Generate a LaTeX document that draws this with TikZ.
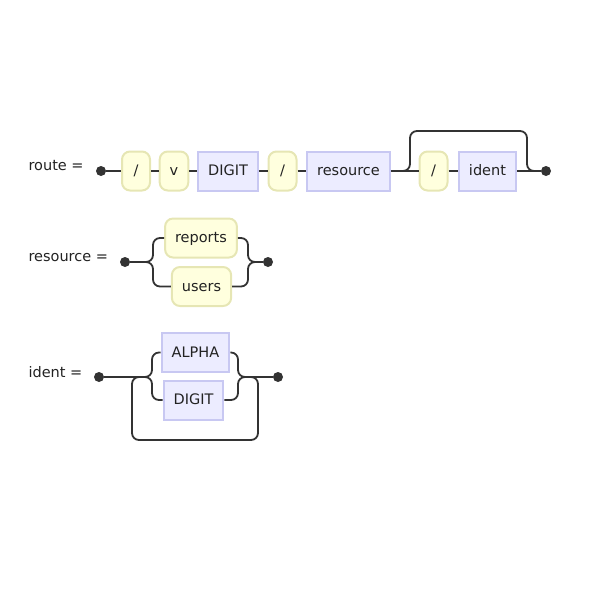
\documentclass[tikz,border=0pt]{standalone}
\usepackage{fontspec}
\setmainfont{DejaVu Sans}
\definecolor{railline}{HTML}{333333}
\definecolor{railtext}{HTML}{222222}
\definecolor{termfill}{HTML}{FFFFDE}
\definecolor{termdraw}{HTML}{E6E6B4}
\definecolor{nontfill}{HTML}{ECECFF}
\definecolor{nontdraw}{HTML}{C8C8F2}
\tikzset{
	term/.style={draw=termdraw,fill=termfill,line width=2pt,rounded corners=8pt,minimum width=28pt,minimum height=39pt,inner xsep=10pt,text height=11pt,text depth=2pt,text=railtext},
	nont/.style={draw=nontdraw,fill=nontfill,line width=2pt,sharp corners,minimum width=28pt,minimum height=39pt,inner xsep=10pt,text height=11pt,text depth=2pt,text=railtext},
	rail/.style={draw=railline,line width=1.8pt,rounded corners=7pt},
	railend/.style={circle,fill=railline,inner sep=0pt,minimum size=10pt},
	rulename/.style={anchor=west,text height=11pt,text depth=2pt,text=railtext}
}
\begin{document}
\begin{tikzpicture}[x=1pt,y=-1pt,font=\fontsize{14.5pt}{17pt}\selectfont]
		\useasboundingbox (0,0) rectangle (600,600);
		\node[rulename](routename) at (25,166) {route =};
		\node[railend](routestart) at (101,171) {};
		\node[term](slasha) at (136,171) {/};
		\node[term](vee) at (174,171) {v};
		\node[nont](digita) at (228,171) {DIGIT};
		\node[term](slashb) at (282.5,171) {/};
		\node[nont](resourceref) at (348.5,171) {resource};
		\node[term](slashc) at (433.5,171) {/};
		\node[nont](identref) at (487.5,171) {ident};
		\node[railend](routeend) at (546,171) {};
		\coordinate (optin) at (400,171);
		\coordinate (optout) at (538,171);
		\draw[rail] (routestart) -- (slasha);
		\draw[rail] (slasha) -- (vee);
		\draw[rail] (vee) -- (digita);
		\draw[rail] (digita) -- (slashb);
		\draw[rail] (slashb) -- (resourceref);
		\draw[rail] (resourceref) -- (slashc);
		\draw[rail] (slashc) -- (identref);
		\draw[rail] (identref) -- (routeend);
		\draw[rail] (optin) -- ++(10,0) |- ([shift={(-11,-40)}]optout) -- ++(0,40) -- (optout);
		\node[rulename](resname) at (25,257) {resource =};
		\node[railend](resstart) at (125,262) {};
		\node[term](reports) at (201,238) {reports};
		\node[term](users) at (201.5,286.5) {users};
		\node[railend](resend) at (268,262) {};
		\coordinate (resl) at (147,262);
		\coordinate (resr) at (258,262);
		\draw[rail] (resstart) -- (resl);
		\draw[rail] (resl) -- ++(6,0) |- (reports.west);
		\draw[rail] (resl) -- ++(6,0) |- (users.west);
		\draw[rail] (resr) -- ++(-10,0) |- (reports.east);
		\draw[rail] (resr) -- ++(-10,0) |- (users.east);
		\draw[rail] (resr) -- (resend);
		\node[rulename](identname) at (25,373) {ident =};
		\node[railend](identstart) at (99,377) {};
		\node[nont](alpha) at (195.5,352.5) {ALPHA};
		\node[nont](digitb) at (193.5,400) {DIGIT};
		\node[railend](identend) at (278,377) {};
		\coordinate (idl) at (143,377);
		\coordinate (idr) at (245,377);
		\draw[rail] (identstart) -- (idl);
		\draw[rail] (idl) -- ++(9,0) |- (alpha.west);
		\draw[rail] (idl) -- ++(9,0) |- (digitb.west);
		\draw[rail] (idr) -- ++(-7,0) |- (alpha.east);
		\draw[rail] (idr) -- ++(-7,0) |- (digitb.east);
		\draw[rail] (idl) -- ++(-11,0) -- ++(0,63) -| ([xshift=13pt]idr) -- (idr);
		\draw[rail] (idr) -- (identend);
	\end{tikzpicture}
\end{document}
